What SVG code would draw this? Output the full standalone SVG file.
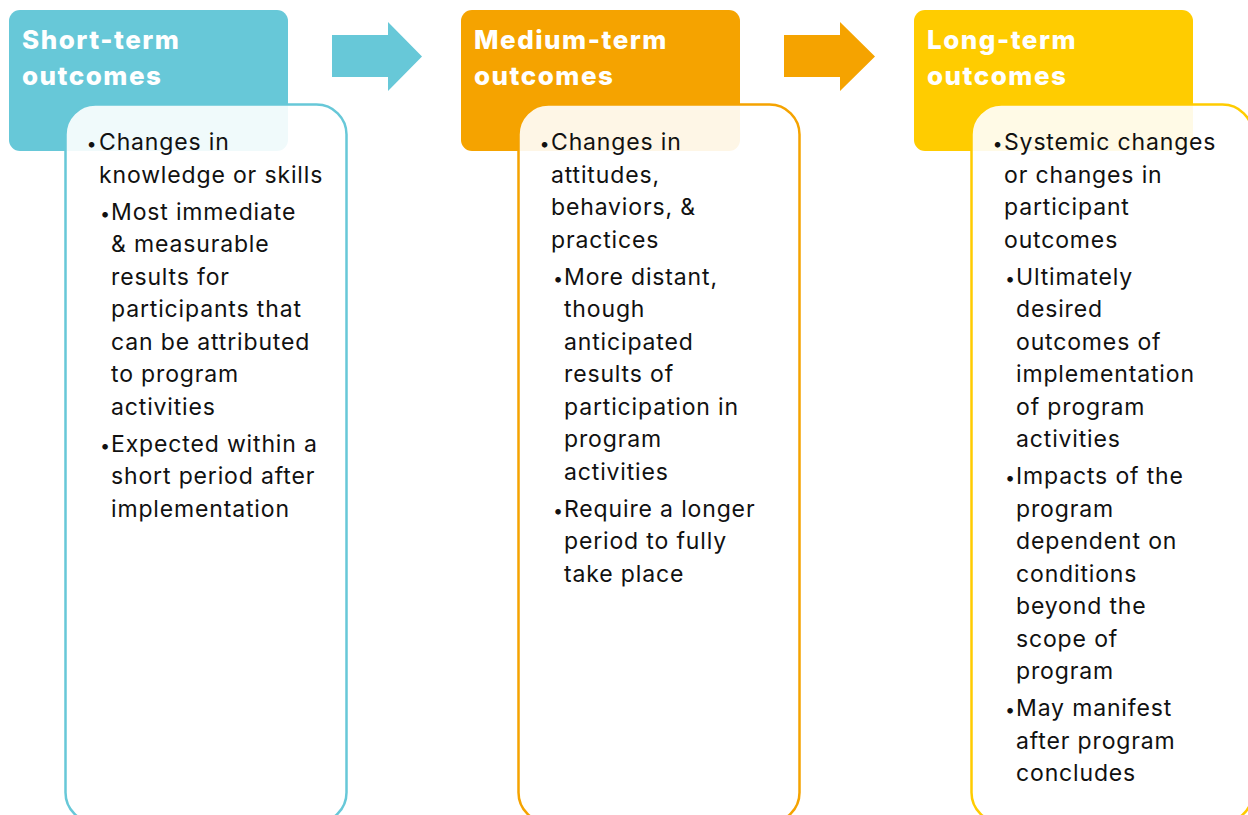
<svg xmlns="http://www.w3.org/2000/svg" width="1248" height="815" viewBox="0 0 1248 815">
<style>
.hdr{font-family:Inter,"Liberation Sans",sans-serif;font-weight:800;font-size:26px;letter-spacing:1.5px;fill:#fff}
.body{font-family:Inter,"Liberation Sans",sans-serif;font-size:23px;letter-spacing:0.85px;fill:#111}
.bul{font-family:Inter,"Liberation Sans",sans-serif;font-size:18px;fill:#111}
.card{fill:#fff;fill-opacity:0.9;stroke-width:2.5}
</style>
<rect width="1248" height="815" fill="#fff"/>
<g id="connectors">
<polygon points="332,35 388,35 388,22 422,56.5 388,91 388,77 332,77" fill="#67C8D8"/>
<polygon points="784,35 840,35 840,22 875,56.5 840,91 840,77 784,77" fill="#F5A300"/>
</g>
<g id="short-term">
<rect x="9" y="10" width="279" height="141" rx="11" fill="#67C8D8"/>
<text class="hdr"><tspan x="22" y="49">Short-term</tspan><tspan x="22" y="85">outcomes</tspan></text>
<rect class="card" x="65.5" y="104.5" width="281" height="718" rx="30" stroke="#67C8D8"/>
<text class="bul"><tspan x="86.5" y="150">•</tspan><tspan x="100" y="219.5">•</tspan><tspan x="100" y="451.5">•</tspan></text>
<text class="body">
<tspan x="99" y="150">Changes in</tspan>
<tspan x="99" y="182.5">knowledge or skills</tspan>
<tspan x="111" y="219.5">Most immediate</tspan>
<tspan x="111" y="252">&amp; measurable</tspan>
<tspan x="111" y="284.5">results for</tspan>
<tspan x="111" y="317">participants that</tspan>
<tspan x="111" y="349.5">can be attributed</tspan>
<tspan x="111" y="382">to program</tspan>
<tspan x="111" y="414.5">activities</tspan>
<tspan x="111" y="451.5">Expected within a</tspan>
<tspan x="111" y="484">short period after</tspan>
<tspan x="111" y="516.5">implementation</tspan>
</text>
</g>
<g id="medium-term">
<rect x="461" y="10" width="279" height="141" rx="11" fill="#F5A300"/>
<text class="hdr"><tspan x="474" y="49">Medium-term</tspan><tspan x="474" y="85">outcomes</tspan></text>
<rect class="card" x="518.5" y="104.5" width="281" height="718" rx="30" stroke="#F5A300"/>
<text class="bul"><tspan x="539.5" y="150">•</tspan><tspan x="553" y="284.5">•</tspan><tspan x="553" y="516.5">•</tspan></text>
<text class="body">
<tspan x="551" y="150">Changes in</tspan>
<tspan x="551" y="182.5">attitudes,</tspan>
<tspan x="551" y="215">behaviors, &amp;</tspan>
<tspan x="551" y="247.5">practices</tspan>
<tspan x="564" y="284.5">More distant,</tspan>
<tspan x="564" y="317">though</tspan>
<tspan x="564" y="349.5">anticipated</tspan>
<tspan x="564" y="382">results of</tspan>
<tspan x="564" y="414.5">participation in</tspan>
<tspan x="564" y="447">program</tspan>
<tspan x="564" y="479.5">activities</tspan>
<tspan x="564" y="516.5">Require a longer</tspan>
<tspan x="564" y="549">period to fully</tspan>
<tspan x="564" y="581.5">take place</tspan>
</text>
</g>
<g id="long-term">
<rect x="914" y="10" width="279" height="141" rx="11" fill="#FFCC00"/>
<text class="hdr"><tspan x="927" y="49">Long-term</tspan><tspan x="927" y="85">outcomes</tspan></text>
<rect class="card" x="971.5" y="104.5" width="281" height="718" rx="30" stroke="#FFCC00"/>
<text class="bul"><tspan x="992.5" y="150">•</tspan><tspan x="1005" y="284.5">•</tspan><tspan x="1005" y="484">•</tspan><tspan x="1005" y="716">•</tspan></text>
<text class="body">
<tspan x="1004" y="150">Systemic changes</tspan>
<tspan x="1004" y="182.5">or changes in</tspan>
<tspan x="1004" y="215">participant</tspan>
<tspan x="1004" y="247.5">outcomes</tspan>
<tspan x="1016" y="284.5">Ultimately</tspan>
<tspan x="1016" y="317">desired</tspan>
<tspan x="1016" y="349.5">outcomes of</tspan>
<tspan x="1016" y="382">implementation</tspan>
<tspan x="1016" y="414.5">of program</tspan>
<tspan x="1016" y="447">activities</tspan>
<tspan x="1016" y="484">Impacts of the</tspan>
<tspan x="1016" y="516.5">program</tspan>
<tspan x="1016" y="549">dependent on</tspan>
<tspan x="1016" y="581.5">conditions</tspan>
<tspan x="1016" y="614">beyond the</tspan>
<tspan x="1016" y="646.5">scope of</tspan>
<tspan x="1016" y="679">program</tspan>
<tspan x="1016" y="716">May manifest</tspan>
<tspan x="1016" y="748.5">after program</tspan>
<tspan x="1016" y="781">concludes</tspan>
</text>
</g>
</svg>
